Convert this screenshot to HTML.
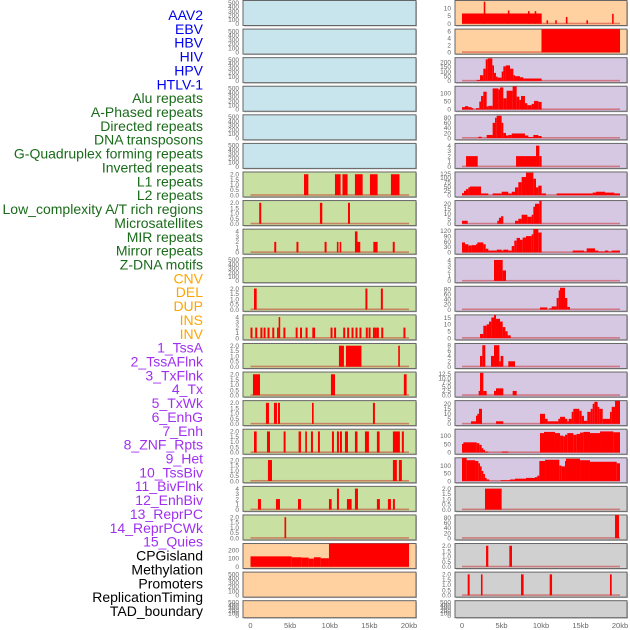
<!DOCTYPE html>
<html><head><meta charset="utf-8">
<style>
html,body{margin:0;padding:0;background:#fff;}
svg{display:block;font-family:"Liberation Sans",sans-serif;}
</style></head>
<body>
<svg id="chart" width="630" height="630" viewBox="0 0 630 630" xmlns="http://www.w3.org/2000/svg">
<g id="labels"></g>
<g id="panels"></g>
<g id="xaxes"></g>
</svg>
<script>
// ---- track labels ----
const trackNames = ["AAV2","EBV","HBV","HIV","HPV","HTLV-1","Alu repeats","A-Phased repeats","Directed repeats","DNA transposons","G-Quadruplex forming repeats","Inverted repeats","L1 repeats","L2 repeats","Low_complexity A/T rich regions","Microsatellites","MIR repeats","Mirror repeats","Z-DNA motifs","CNV","DEL","DUP","INS","INV","1_TssA","2_TssAFlnk","3_TxFlnk","4_Tx","5_TxWk","6_EnhG","7_Enh","8_ZNF_Rpts","9_Het","10_TssBiv","11_BivFlnk","12_EnhBiv","13_ReprPC","14_ReprPCWk","15_Quies","CPGisland","Methylation","Promoters","ReplicationTiming","TAD_boundary"];
const trackGroups = ["v","v","v","v","v","v","r","r","r","r","r","r","r","r","r","r","r","r","r","s","s","s","s","s","c","c","c","c","c","c","c","c","c","c","c","c","c","c","c","o","o","o","o","o"];

// ---- tick label sets ----
const T_EMPTY = ["0","100","200","300","400","500"];
const T_2 = ["0.0","0.5","1.0","1.5","2.0"];
const T_4 = ["0","1","2","3","4"];
const T_CNV = ["0","100","200"];
const T_R0 = ["0","5","10"];
const T_R1 = ["0","2","4","6"];
const T_R2 = ["0","50","100","150","200"];
const T_100 = ["0","50","100"];
const T_80 = ["0","20","40","60","80"];
const T_125 = ["0","25","50","75","100","125"];
const T_20 = ["0","5","10","15","20"];
const T_120 = ["0","30","60","90","120"];
const T_15 = ["0","5","10","15"];
const T_8 = ["0","2","4","6","8"];
const T_12 = ["0.0","2.5","5.0","7.5","10.0","12.5"];
const xTicks = ["0","5kb","10kb","15kb","20kb"];
const xTickVals = [0,5,10,15,20];

// ---- series data: [startKb, endKb, value] ----
const L6 = [[6.75,7.3,2],[10.66,11.37,2],[11.6,12.25,2],[13.18,14.15,2],[15.07,16.04,2],[17.72,18.8,2]];
const L7 = [[1.1,1.35,2],[8.76,9.06,2],[12.3,12.55,2]];
const L8 = [[3.0,3.25,2],[5.8,6.05,2],[9.35,9.6,2],[10.9,11.1,2],[11.25,11.45,2],[13.18,13.5,4],[13.5,13.85,2],[15.5,16.04,2],[17.95,18.2,2]];
const L10 = [[0.44,0.78,2],[14.5,14.75,2],[16.45,16.7,2]];
const L11 = [[0.0,0.25,2],[0.6,0.85,2],[1.25,1.5,2],[1.65,1.9,2],[2.15,2.4,2],[2.75,3.0,2],[3.35,3.55,2],[3.55,3.75,4],[4.15,4.4,2],[5.7,5.95,2],[6.25,6.5,2],[6.95,7.2,2],[7.8,8.15,2],[10.1,10.35,2],[10.55,10.8,2],[11.7,11.95,2],[12.2,12.45,2],[12.75,13.0,2],[13.25,13.5,2],[13.75,14.0,2],[14.55,14.8,2],[14.9,15.15,2],[15.45,15.7,2],[15.7,15.95,2],[15.95,16.2,2],[16.5,16.75,2],[19.3,19.55,2]];
const L12 = [[11.16,11.79,2],[12.04,14.0,2],[18.64,18.85,2]];
const L13 = [[0.31,1.2,2],[10.15,10.66,2],[19.35,19.7,2]];
const L14 = [[1.95,2.33,2],[2.96,3.34,2],[3.47,3.72,2],[7.76,7.97,2],[15.45,15.7,2]];
const L15 = [[0.44,0.78,2],[2.08,2.46,2],[4.18,4.43,2],[6.07,6.37,2],[6.91,7.12,2],[7.63,7.88,2],[8.51,8.76,2],[10.28,10.53,2],[10.91,11.16,2],[11.29,11.54,2],[11.92,12.3,2],[13.18,13.5,2],[14.44,14.94,2],[15.95,16.29,2],[17.97,18.85,2],[19.1,19.35,2]];
const L16 = [[2.2,2.71,2],[17.97,18.47,2],[18.72,19.1,2]];
const L17 = [[0.94,1.32,2],[3.21,3.72,2],[5.99,6.37,2],[9.9,10.24,2],[10.91,11.16,4],[12.17,12.76,2],[13.18,13.56,4],[15.95,16.33,2],[17.34,17.72,2],[17.97,18.22,2]];
const L18 = [[4.29,4.5,2]];
const L19 = [[0,5.19,125],[5.19,6.45,114],[6.45,7.33,110],[7.33,8.0,98],[8.0,8.85,114],[8.85,9.9,102],[9.9,20,300]];

const R0 = [[0,10.09,6.5],[2.75,2.95,14],[5.8,6.0,8.4],[8.35,8.55,8],[9.2,9.4,8],[10.7,10.9,2.2],[11.8,12.0,2.2],[13.15,13.35,4.3],[15.75,15.95,2.2],[19.0,19.2,6.3]];
const R1 = [[10.06,20.0,7]];
const R2 = [[1.86,2.28,10],[2.28,2.7,60],[2.7,3.0,130],[3.0,3.25,230],[3.25,3.84,240],[3.84,4.05,165],[4.05,4.3,85],[4.3,4.51,45],[4.51,5.02,35],[5.02,5.23,100],[5.23,5.53,155],[5.53,6.08,165],[6.08,6.5,130],[6.5,6.71,60],[6.71,7.34,50],[7.34,7.76,38],[7.76,10.08,25]];
const R3 = [[0,0.38,14],[0.38,0.8,20],[0.8,1.22,14],[1.22,1.43,8],[1.77,2.19,8],[2.19,2.41,48],[2.41,2.7,82],[2.7,3.12,108],[3.12,3.33,18],[3.33,3.88,22],[3.88,4.6,128],[4.6,4.81,122],[4.81,5.23,134],[5.23,5.65,68],[5.65,6.41,114],[6.41,6.92,140],[6.92,7.26,78],[7.26,7.47,58],[7.47,7.97,82],[7.97,8.27,38],[8.27,8.82,26],[8.82,9.11,34],[9.11,9.66,52],[9.66,10.08,46]];
const R4 = [[2.07,2.49,5],[3.12,3.88,12],[3.88,4.18,60],[4.18,4.39,80],[4.39,5.02,88],[5.02,5.23,60],[5.23,5.57,20],[5.57,5.86,10],[5.86,6.29,12],[6.29,7.97,18],[7.97,8.4,10],[8.4,9.03,4],[9.03,9.66,12],[9.66,10.08,8]];
const R5 = [[0.51,1.99,2],[6.84,9.37,2],[9.37,9.79,4],[9.79,10.08,2]];
const R6 = [[0,0.25,12],[0.25,0.51,25],[0.51,0.8,35],[0.8,1.01,45],[1.01,2.41,50],[2.41,3.33,10],[3.88,5.02,10],[5.02,5.86,20],[5.86,6.29,10],[6.29,6.71,20],[6.71,7.13,45],[7.13,7.55,75],[7.55,8.1,105],[8.1,9.03,130],[9.03,9.37,95],[9.37,9.66,45],[9.66,10.08,55],[10.08,10.63,10],[11.98,16.54,10],[16.54,16.96,15],[16.96,18.1,20],[18.1,19.28,15],[19.28,20,10]];
const R7 = [[0,0.72,3],[4.47,4.68,3],[4.68,4.94,6],[4.94,5.23,7.5],[6.71,7.13,3],[7.13,7.55,5],[7.55,8.27,9],[8.27,8.82,7],[8.82,9.03,9],[9.03,9.24,17],[9.24,9.79,20],[9.79,10.08,23]];
const R8 = [[0,0.38,55],[0.38,0.8,45],[0.8,1.22,38],[1.22,1.77,40],[1.77,1.94,45],[1.94,2.7,55],[2.7,3.0,45],[3.0,3.33,20],[3.33,4.39,10],[4.39,5.02,15],[5.02,5.23,10],[5.23,5.86,15],[5.86,6.29,10],[6.29,6.62,35],[6.62,6.92,65],[6.92,7.34,80],[7.34,7.68,70],[7.68,8.1,82],[8.1,8.82,90],[8.82,9.03,100],[9.03,9.66,130],[9.66,10.08,110],[14.01,15.44,10],[15.44,15.78,5],[15.78,16.84,22],[16.84,17.26,10],[17.26,18.1,5],[18.1,18.52,10],[18.52,18.95,5],[18.95,20,10]];
const R9 = [[4.05,5.15,4],[5.15,5.57,2]];
const R10 = [[9.87,10.8,8],[11.05,11.35,5],[11.35,11.98,12],[11.98,12.24,45],[12.24,12.41,75],[12.41,13.04,85],[13.04,13.33,45],[13.33,13.67,10]];
const R11 = [[2.28,2.7,3],[2.7,3.12,9],[3.12,3.42,10],[3.42,3.71,12],[3.71,4.05,15],[4.05,4.3,17],[4.3,4.81,14],[4.81,5.15,12],[5.15,5.49,8],[5.49,5.78,5],[5.78,6.16,2]];
const R12 = [[2.28,2.57,4],[2.57,2.95,8],[3.67,4.05,4],[4.05,4.73,8],[4.73,4.89,2],[4.89,5.23,4],[5.86,6.71,2]];
const R13 = [[2.11,2.28,2.5],[2.28,2.7,13],[2.7,3.12,2.5],[4.05,4.3,2.5],[4.3,5.23,4],[6.41,6.92,2.5]];
const R14 = [[1.14,1.77,2.5],[1.77,1.94,8],[1.94,2.15,10],[2.15,2.53,15],[4.3,5.23,2.5],[9.87,10.51,10],[10.51,10.84,5],[10.84,12.19,2.5],[12.19,12.41,5],[12.41,13.04,7],[13.04,13.33,5],[13.33,13.5,2.5],[13.5,13.88,5],[13.88,14.09,12],[14.09,14.85,15],[14.85,15.15,13],[15.15,15.44,8],[15.44,15.86,3],[15.86,16.29,12],[16.29,16.54,15],[16.54,16.75,20],[16.75,17.17,22],[17.17,17.38,17],[17.38,17.81,15],[17.81,18.73,5],[18.73,18.95,12],[18.95,19.37,17],[19.37,20,23]];
const R15 = [[0,0.17,50],[0.17,1.86,60],[1.86,2.19,55],[2.19,2.49,45],[2.49,2.7,25],[2.7,2.91,15],[2.91,3.33,5],[5.02,5.86,5],[9.87,10.38,115],[10.38,11.77,122],[11.77,12.41,115],[12.41,12.83,100],[12.83,13.04,95],[13.04,13.33,105],[13.33,14.09,115],[14.09,14.51,105],[14.51,14.94,110],[14.94,15.36,118],[15.36,16.2,122],[16.2,17.47,115],[17.47,19.16,125],[19.16,20,120]];
const R16 = [[0,0.59,150],[0.59,1.65,135],[1.65,2.07,130],[2.07,2.28,115],[2.28,2.49,95],[2.49,2.7,65],[2.7,2.91,45],[2.91,3.12,20],[3.12,3.46,10],[4.89,6.08,5],[6.08,6.71,10],[6.71,8.1,15],[8.1,9.24,20],[9.24,9.54,25],[9.54,9.79,35],[9.79,10.51,130],[10.51,12.32,138],[12.32,12.62,100],[12.62,13.04,95],[13.04,13.16,130],[13.16,14.94,145],[14.94,16.2,135],[16.2,19.58,125],[19.58,20,115]];
const R17 = [[2.91,5.02,2]];
const R18 = [[19.37,19.87,90]];
const R19 = [[3.04,3.33,2],[5.99,6.33,2]];
const R20 = [[0.72,0.97,2],[2.4,2.6,2],[7.47,7.8,2],[11.1,11.4,2],[18.73,18.95,2]];

// ---- panel configuration ----
const BLUE="#c8e4ec", GREEN="#c8e0a2", ORANGE="#ffd1a1", LAV="#d6c8e2", GREY="#d0d0d0";
const leftPanels = [
 [null,T_EMPTY,520,BLUE],[null,T_EMPTY,520,BLUE],[null,T_EMPTY,520,BLUE],[null,T_EMPTY,520,BLUE],[null,T_EMPTY,520,BLUE],[null,T_EMPTY,520,BLUE],
 [L6,T_2,2.1,GREEN],[L7,T_2,2.1,GREEN],[L8,T_4,4.2,GREEN],[null,T_EMPTY,520,GREEN],[L10,T_2,2.1,GREEN],[L11,T_4,4.2,GREEN],
 [L12,T_2,2.1,GREEN],[L13,T_2,2.1,GREEN],[L14,T_2,2.1,GREEN],[L15,T_2,2.1,GREEN],[L16,T_2,2.1,GREEN],[L17,T_4,4.2,GREEN],[L18,T_2,2.1,GREEN],
 [L19,T_CNV,265,ORANGE],[null,T_EMPTY,520,ORANGE],[null,T_EMPTY,520,ORANGE]
];
const rightPanels = [
 [R0,T_R0,14,ORANGE],[R1,T_R1,6.2,ORANGE],
 [R2,T_R2,235,LAV],[R3,T_100,134,LAV],[R4,T_80,87,LAV],[R5,T_4,4.2,LAV],[R6,T_125,127,LAV],[R7,T_20,22,LAV],[R8,T_120,122,LAV],
 [R9,T_4,4.2,LAV],[R10,T_80,86,LAV],[R11,T_15,16,LAV],[R12,T_8,8.2,LAV],[R13,T_12,12.8,LAV],[R14,T_20,22,LAV],[R15,T_100,131,LAV],[R16,T_100,143,LAV],
 [R17,T_2,2.1,GREY],[R18,T_80,86,GREY],[R19,T_2,2.1,GREY],[R20,T_2,2.1,GREY],[null,T_EMPTY,520,GREY]
];

const NS="http://www.w3.org/2000/svg";
function mk(tag, attrs, parent){const e=document.createElementNS(NS,tag);for(const k in attrs)e.setAttribute(k,attrs[k]);parent.appendChild(e);return e;}

// labels
const colors={v:"#0000ee",r:"#1a6b1a",s:"#ffa500",c:"#a030f0",o:"#000000"};
const lg=document.getElementById("labels");
trackNames.forEach((n,i)=>{
  const t=mk("text",{x:203,y:(15+i*13.86+5).toFixed(1),"text-anchor":"end","font-size":"14",fill:colors[trackGroups[i]]},lg);
  
  
  t.textContent=n;
});

const pg=document.getElementById("panels");
function drawColumn(panels, x0, x1, k0, k20, side){
  const xs=kb=>k0+(k20-k0)*kb/20;
  panels.forEach((p,i)=>{
    const [data,ticks,ymax,bg]=p;
    const top=0.5+i*28.58;
    const h=(i===21)?17:25;
    const zero=top+h-1.8, ph=h-3;
    const ys=v=>zero-ph*Math.min(v,ymax*1.2)/ymax;
    const g=mk("g",{},pg);
    
    
    mk("rect",{x:x0+1,y:top+1,width:x1-x0,height:h,fill:"#bbb"},g);
    const bgr=mk("rect",{x:x0,y:top,width:x1-x0,height:h,fill:bg,stroke:"#666","stroke-width":1},g);
    
    
    const cp="clip-"+side+i;
    const c=mk("clipPath",{id:cp},g);
    mk("rect",{x:x0,y:top,width:x1-x0,height:h},c);
    const dg=mk("g",{"clip-path":"url(#"+cp+")"},g);
    if(data){
      const bl=mk("rect",{x:xs(0),y:zero-1,width:xs(20)-xs(0),height:1.6,fill:"rgba(200,20,20,0.45)"},dg);
      
      
      data.forEach(d=>{
        const y=ys(d[2]);
        const r=mk("rect",{x:xs(d[0]).toFixed(2),y:y.toFixed(2),width:Math.max(1.5,xs(d[1])-xs(d[0])).toFixed(2),height:(zero-y).toFixed(2),fill:"#ff0000"},dg);
        
        
      });
    }
    ticks.forEach(t=>{
      const v=parseFloat(t);
      const tt=mk("text",{x:x0-4,y:(ys(v)+2.3).toFixed(1),"text-anchor":"end","font-size":"6.5",fill:"#666"},g);
      
      
      tt.textContent=t;
    });
  });
  const xg=document.getElementById("xaxes");
  xTicks.forEach((t,j)=>{
    const tx=mk("text",{x:xs(xTickVals[j]).toFixed(1),y:628,"text-anchor":"middle","font-size":"7.5",fill:"#666"},xg);
    
    
    tx.textContent=t;
  });
}
drawColumn(leftPanels,243,416,250.5,409,"left");
drawColumn(rightPanels,455,627,462,620,"right");
</script>
</body></html>
